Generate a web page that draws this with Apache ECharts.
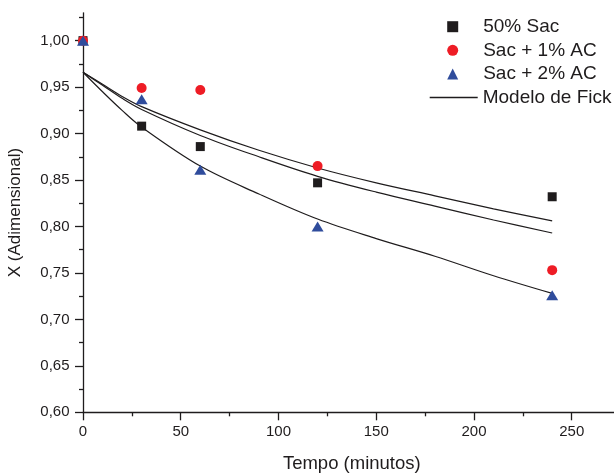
<!DOCTYPE html>
<html>
<head>
<meta charset="utf-8">
<script src="https://cdn.jsdelivr.net/npm/echarts@6/dist/echarts.min.js"></script>
<style>
html,body{margin:0;padding:0;background:#fff;}
#chart{width:614px;height:473px;}
</style>
</head>
<body>
<div id="chart"></div>
<script>
// Measured times (minutes)
var timePoints = [0, 30, 60, 120, 240];
// Experimental series
var sac50 = [1.000, 0.908, 0.886, 0.847, 0.832];
var sac1AC = [1.000, 0.949, 0.947, 0.865, 0.753];
var sac2AC = [1.000, 0.937, 0.861, 0.800, 0.726];
// Fick model curves
var fickTimes = [0, 10, 20, 30, 60, 90, 120, 150, 180, 210, 240];
var fickUpper = [0.966, 0.953, 0.940, 0.929, 0.904, 0.882, 0.863, 0.847, 0.833, 0.819, 0.806];
var fickMiddle = [0.966, 0.952, 0.938, 0.926, 0.898, 0.875, 0.854, 0.837, 0.822, 0.807, 0.793];
var fickLower = [0.966, 0.945, 0.925, 0.907, 0.865, 0.835, 0.808, 0.787, 0.768, 0.747, 0.728];
// Ticks
var xMajorTicks = [0, 50, 100, 150, 200, 250];
var xMinorTicks = [25, 75, 125, 175, 225, 275];
var yMajorTicks = [0.60, 0.65, 0.70, 0.75, 0.80, 0.85, 0.90, 0.95, 1.00];
var yMinorTicks = [0.625, 0.675, 0.725, 0.775, 0.825, 0.875, 0.925, 0.975, 1.025];
// Legend entries
var markerNames = ['50% Sac', 'Sac + 1% AC', 'Sac + 2% AC'];
var modelName = 'Modelo de Fick';

function pairs(xs, ys) { return xs.map(function (x, i) { return [x, ys[i]]; }); }

var FONT = '"Liberation Sans", Arial, sans-serif';
var INK = '#1f1c1d';

var chart = echarts.init(document.getElementById('chart'), null, {renderer: 'canvas'});

var xBase = {
  type: 'value', min: 0, max: 275, gridIndex: 0,
  splitLine: {show: false}
};
var yBase = {
  type: 'value', min: 0.6, max: 1.03, gridIndex: 0,
  splitLine: {show: false}
};

function fickSeries(data) {
  return {
    name: modelName, type: 'line', data: data, smooth: 0.35,
    symbol: 'none', showSymbol: false, z: 1,
    lineStyle: {color: INK, width: 1.2}, itemStyle: {color: INK},
    emphasis: {disabled: true}, animation: false
  };
}

chart.setOption({
  animation: false,
  backgroundColor: '#ffffff',
  textStyle: {fontFamily: FONT},
  grid: {left: 83, right: -6.6, top: 12.8, bottom: 60.7, containLabel: false, outerBoundsMode: 'none'},
  legend: [
    {
      orient: 'vertical', left: 447.2, top: 17.2, padding: 0,
      itemWidth: 11, itemHeight: 11, itemGap: 4.6,
      textStyle: {fontFamily: FONT, fontSize: 19, color: INK, padding: [0, 0, 0, 20]},
      itemStyle: {opacity: 1},
      data: markerNames,
      selectedMode: false
    },
    {
      orient: 'vertical', left: 429.7, top: 88, padding: 0,
      itemWidth: 48, itemHeight: 1.3, itemGap: 4.6,
      icon: 'rect',
      textStyle: {fontFamily: FONT, fontSize: 19, color: INK},
      data: [modelName],
      selectedMode: false
    }
  ],
  xAxis: [
    Object.assign({}, xBase, {
      position: 'bottom',
      name: 'Tempo (minutos)', nameLocation: 'middle', nameGap: 42,
      nameTextStyle: {fontFamily: FONT, fontSize: 18.5, color: INK},
      axisLine: {show: true, onZero: false, lineStyle: {color: INK, width: 1.3}},
      axisTick: {show: true, inside: false, length: 8, customValues: xMajorTicks, lineStyle: {color: INK, width: 1.3}},
      axisLabel: {show: true, margin: 12, customValues: xMajorTicks, fontFamily: FONT, fontSize: 15, color: INK}
    }),
    Object.assign({}, xBase, {
      position: 'bottom',
      axisLine: {show: false, onZero: false},
      axisTick: {show: true, inside: false, length: 4, customValues: xMinorTicks, lineStyle: {color: INK, width: 1.3}},
      axisLabel: {show: false}
    })
  ],
  yAxis: [
    Object.assign({}, yBase, {
      position: 'left',
      name: 'X (Adimensional)', nameLocation: 'middle', nameGap: 59,
      nameTextStyle: {fontFamily: FONT, fontSize: 17, color: INK},
      axisLine: {show: true, onZero: false, lineStyle: {color: INK, width: 1.3}},
      axisTick: {show: true, inside: false, length: 8, customValues: yMajorTicks, lineStyle: {color: INK, width: 1.3}},
      axisLabel: {show: true, margin: 13.5, customValues: yMajorTicks, fontFamily: FONT, fontSize: 15, color: INK,
        formatter: function (v) { return v.toFixed(2).replace('.', ','); }}
    }),
    Object.assign({}, yBase, {
      position: 'left',
      axisLine: {show: false, onZero: false},
      axisTick: {show: true, inside: false, length: 4, customValues: yMinorTicks, lineStyle: {color: INK, width: 1.3}},
      axisLabel: {show: false}
    })
  ],
  series: [
    fickSeries(pairs(fickTimes, fickUpper)),
    fickSeries(pairs(fickTimes, fickMiddle)),
    fickSeries(pairs(fickTimes, fickLower)),
    {
      name: markerNames[0], type: 'scatter', data: pairs(timePoints, sac50),
      symbol: 'rect', symbolSize: 9, clip: false, z: 3,
      itemStyle: {color: INK, opacity: 1}
    },
    {
      name: markerNames[1], type: 'scatter', data: pairs(timePoints, sac1AC),
      symbol: 'circle', symbolSize: 10, clip: false, z: 4,
      itemStyle: {color: '#EE1C25', opacity: 1}
    },
    {
      name: markerNames[2], type: 'scatter', data: pairs(timePoints, sac2AC),
      symbol: 'triangle', symbolSize: [12, 10], clip: false, z: 5,
      itemStyle: {color: '#2F4C9C', opacity: 1}
    }
  ]
});
</script>
</body>
</html>
